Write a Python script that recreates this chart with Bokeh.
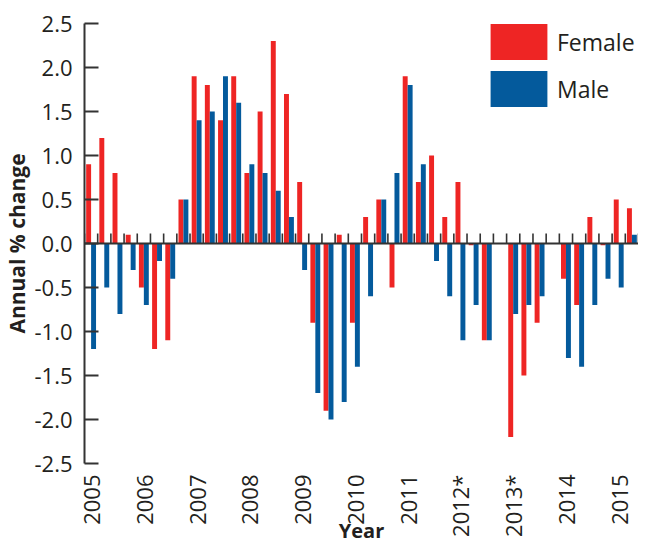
import math
from bokeh.plotting import figure
from bokeh.models import (ColumnDataSource, Range1d, FixedTicker, SingleIntervalTicker,
                          PrintfTickFormatter, Span)
from bokeh.transform import dodge
from bokeh.embed import file_html
from bokeh.resources import INLINE

NaN = float("nan")

# ---- data ----
years = ["2005", "2006", "2007", "2008", "2009", "2010", "2011", "2012*", "2013*", "2014", "2015"]
quarters_per_year = 4
quarters = [f"{y} Q{q}" for y in years for q in range(1, 5)][:42]

female = [0.9, 1.2, 0.8, 0.1,
          -0.5, -1.2, -1.1, 0.5,
          1.9, 1.8, 1.4, 1.9,
          0.8, 1.5, 2.3, 1.7,
          0.7, -0.9, -1.9, 0.1,
          -0.9, 0.3, 0.5, -0.5,
          1.9, 0.7, 1.0, 0.3,
          0.7, -0.02, -1.1, NaN,
          -2.2, -1.5, -0.9, NaN,
          -0.4, -0.7, 0.3, -0.02,
          0.5, 0.4]
male = [-1.2, -0.5, -0.8, -0.3,
        -0.7, -0.2, -0.4, 0.5,
        1.4, 1.5, 1.9, 1.6,
        0.9, 0.8, 0.6, 0.3,
        -0.3, -1.7, -2.0, -1.8,
        -1.4, -0.6, 0.5, 0.8,
        1.8, 0.9, -0.2, -0.6,
        -1.1, -0.7, -1.1, NaN,
        -0.8, -0.7, -0.6, NaN,
        -1.3, -1.4, -0.7, -0.4,
        -0.5, 0.1]

RED = "#ee2524"
BLUE = "#045a9c"
DARK = "#231f20"
FONT = "Open Sans"

n = len(quarters)
idx = list(range(n))
src = ColumnDataSource(dict(q=idx, female=female, male=male))

p = figure(width=638, height=546, output_backend="svg", toolbar_location=None,
           x_range=Range1d(-0.5, n - 0.5), y_range=Range1d(-2.5, 2.5),
           min_border_left=77, min_border_right=0, min_border_top=23, min_border_bottom=82)
p.outline_line_color = None
p.grid.visible = False
p.background_fill_color = "white"
p.border_fill_color = "white"

bw = 0.375
p.vbar(x=dodge("q", -bw / 2, range=p.x_range), top="female", bottom=0, width=bw,
       source=src, fill_color=RED, line_color=None, legend_label="Female")
p.vbar(x=dodge("q", bw / 2, range=p.x_range), top="male", bottom=0, width=bw,
       source=src, fill_color=BLUE, line_color=None, legend_label="Male")

# zero line with upward quarter ticks at category boundaries
p.add_layout(Span(location=0, dimension="width", line_color="#333333", line_width=2))
bounds = [k - 0.5 for k in range(n + 1)]
p.segment(x0=bounds, y0=[0] * len(bounds), x1=bounds, y1=[0.115] * len(bounds),
          line_color="#333333", line_width=1.6)

# y axis
ya = p.yaxis[0]
ya.ticker = SingleIntervalTicker(interval=0.5)
ya.formatter = PrintfTickFormatter(format="%.1f")
ya.axis_label = "Annual % change"
ya.axis_label_text_font = FONT
ya.axis_label_text_font_style = "bold"
ya.axis_label_text_font_size = "21px"
ya.axis_label_text_color = DARK
ya.axis_label_standoff = 0
ya.major_label_text_font = FONT
ya.major_label_text_font_size = "22px"
ya.major_label_text_color = DARK
ya.major_label_standoff = 8
ya.major_tick_in = 14
ya.major_tick_out = 0
ya.minor_tick_line_color = None
ya.axis_line_color = "#333333"
ya.axis_line_width = 2
ya.major_tick_line_color = "#333333"
ya.major_tick_line_width = 2

# x axis (year labels only)
xa = p.xaxis[0]
year_pos = [i * quarters_per_year for i in range(len(years))]
xa.ticker = FixedTicker(ticks=year_pos)
xa.major_label_overrides = {pos: lab for pos, lab in zip(year_pos, years)}
xa.major_label_orientation = math.pi / 2
xa.major_label_text_font = FONT
xa.major_label_text_font_size = "22px"
xa.major_label_text_color = DARK
xa.major_label_standoff = 11
xa.axis_line_color = None
xa.major_tick_line_color = None
xa.major_tick_out = 0
xa.major_tick_in = 0
xa.minor_tick_line_color = None
xa.axis_label = "Year"
xa.axis_label_text_font = FONT
xa.axis_label_text_font_style = "bold"
xa.axis_label_text_font_size = "20px"
xa.axis_label_text_color = DARK
xa.axis_label_standoff = -23

# legend
lg = p.legend[0]
lg.location = (399, 352)
lg.margin = 0
lg.padding = 0
lg.spacing = 2
lg.glyph_width = 71
lg.glyph_height = 45
lg.label_standoff = 3
lg.label_text_font = FONT
lg.label_text_font_size = "23px"
lg.label_text_color = DARK
lg.border_line_color = None
lg.background_fill_alpha = 0

open("out.html", "w").write(file_html(p, INLINE))
